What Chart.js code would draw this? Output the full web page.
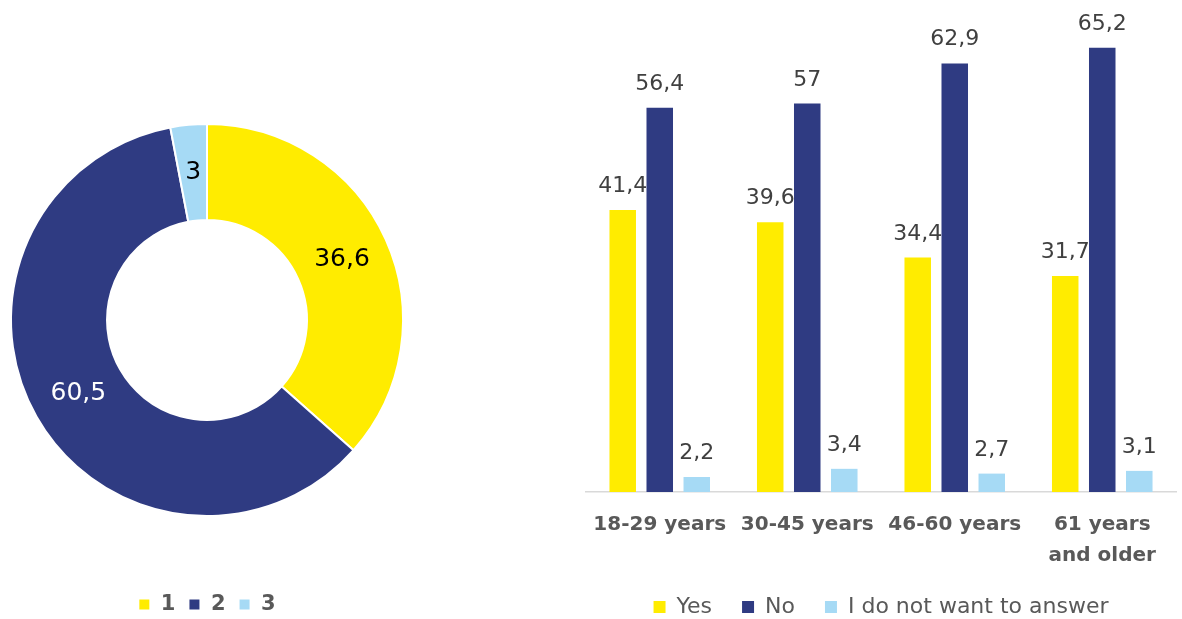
<!DOCTYPE html>
<html>
<head>
<meta charset="utf-8">
<script src="https://cdn.jsdelivr.net/npm/chart.js@4.4.1/dist/chart.umd.min.js"></script>
<style>
  body { margin: 0; background: #fff; overflow: hidden; width: 1182px; height: 619px; position: relative; }
  canvas { position: absolute; top: 0; }
  #pieChart { left: 0; }
  #barChart { left: 560px; }
</style>
</head>
<body>
<canvas id="pieChart" width="415" height="625"></canvas>
<canvas id="barChart" width="622" height="628"></canvas>
<script>
const pieLabels = ['1', '2', '3'];
const pieValues = [36.6, 60.5, 3];
const pieColors = ['#FFEC00', '#2F3B82', '#A6DAF5'];
const pieTextColors = ['#000000', '#ffffff', '#000000'];

const ageGroups = ['18-29 years', '30-45 years', '46-60 years', ['61 years', 'and older']];
const seriesNames = ['Yes', 'No', 'I do not want to answer'];
const yesValues = [41.4, 39.6, 34.4, 31.7];
const noValues = [56.4, 57, 62.9, 65.2];
const noAnswerValues = [2.2, 3.4, 2.7, 3.1];
const barColors = ['#FFEC00', '#2F3B82', '#A6DAF5'];

const FONT = "'DejaVu Sans', sans-serif";
const GREY = '#595959';

function fmt(v) {
  return String(v).replace('.', ',');
}

// numbers inside the arcs / above the bars
const valueLabels = {
  id: 'valueLabels',
  afterDatasetsDraw(chart, args, opts) {
    const ctx = chart.ctx;
    ctx.save();
    ctx.font = opts.size + 'px ' + FONT;
    ctx.textAlign = 'center';
    chart.data.datasets.forEach((ds, i) => {
      chart.getDatasetMeta(i).data.forEach((el, j) => {
        const text = fmt(ds.data[j]);
        if (chart.config.type === 'doughnut') {
          const p = el.tooltipPosition();
          ctx.fillStyle = pieTextColors[j];
          ctx.textBaseline = 'middle';
          ctx.fillText(text, p.x, p.y);
        } else {
          ctx.fillStyle = '#404040';
          ctx.textBaseline = 'alphabetic';
          ctx.fillText(text, el.x, el.y - opts.gap);
        }
      });
    });
    ctx.restore();
  }
};

new Chart(document.getElementById('pieChart'), {
  type: 'doughnut',
  data: {
    labels: pieLabels,
    datasets: [{
      data: pieValues,
      backgroundColor: pieColors,
      borderColor: '#ffffff',
      borderWidth: 2
    }]
  },
  options: {
    responsive: false,
    animation: false,
    cutout: '51%',
    layout: { padding: { top: 59, left: 10, right: 11, bottom: 0 } },
    plugins: {
      legend: {
        position: 'bottom',
        labels: {
          boxWidth: 12,
          boxHeight: 12,
          padding: 13,
          color: GREY,
          font: { family: FONT, size: 21, weight: 'bold' }
        }
      },
      tooltip: { enabled: false },
      valueLabels: { size: 25 }
    }
  },
  plugins: [valueLabels]
});

new Chart(document.getElementById('barChart'), {
  type: 'bar',
  data: {
    labels: ageGroups,
    datasets: [
      { label: seriesNames[0], data: yesValues, backgroundColor: barColors[0] },
      { label: seriesNames[1], data: noValues, backgroundColor: barColors[1] },
      { label: seriesNames[2], data: noAnswerValues, backgroundColor: barColors[2] }
    ]
  },
  options: {
    responsive: false,
    animation: false,
    categoryPercentage: 0.753,
    barPercentage: 0.716,
    layout: { padding: { top: 15, left: 26, right: 6, bottom: 0 } },
    scales: {
      x: {
        grid: { display: false, drawTicks: false },
        border: { color: '#D9D9D9', width: 1.5 },
        ticks: {
          color: GREY,
          padding: 17,
          maxRotation: 0,
          autoSkip: false,
          font: { family: FONT, size: 20, weight: 'bold', lineHeight: 1.55 }
        },
        afterFit(scale) { scale.height = 74; }
      },
      y: { display: false, min: 0, max: 70 }
    },
    plugins: {
      legend: {
        position: 'bottom',
        labels: {
          boxWidth: 12,
          boxHeight: 12,
          padding: 30,
          color: GREY,
          font: { family: FONT, size: 22 }
        }
      },
      tooltip: { enabled: false },
      valueLabels: { size: 22, gap: 18 }
    }
  },
  plugins: [valueLabels]
});
</script>
</body>
</html>
